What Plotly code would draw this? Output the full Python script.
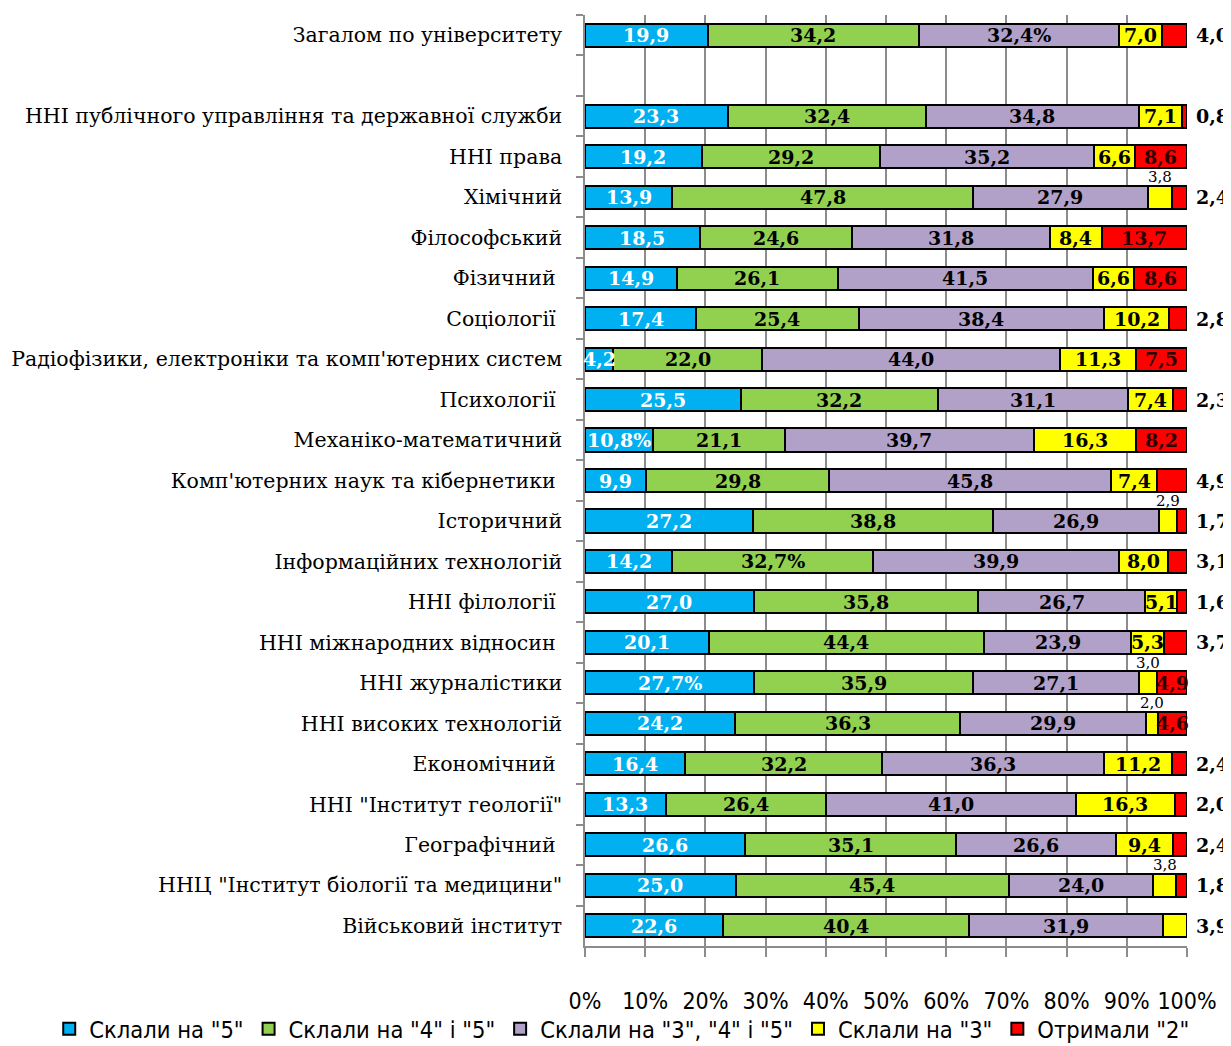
import plotly.graph_objects as go

categories = [
    "Загалом по університету",
    "\u00a0",
    "ННІ публічного управління та державної служби",
    "ННІ права",
    "Хімічний",
    "Філософський",
    "Фізичний\u00a0",
    "Соціології\u00a0",
    "Радіофізики, електроніки та комп'ютерних систем",
    "Психології\u00a0",
    "Механіко-математичний",
    "Комп'ютерних наук та кібернетики\u00a0",
    "Історичний",
    "Інформаційних технологій",
    "ННІ філології\u00a0",
    "ННІ міжнародних відносин\u00a0",
    "ННІ журналістики",
    "ННІ високих технологій",
    "Економічний\u00a0",
    "ННІ \"Інститут геології\"",
    "Географічний\u00a0",
    "ННЦ \"Інститут біології та медицини\"",
    "Військовий інститут",
]

s5 = [19.9, None, 23.3, 19.2, 13.9, 18.5, 14.9, 17.4, 4.2, 25.5, 10.8, 9.9, 27.2, 14.2, 27.0, 20.1, 27.7, 24.2, 16.4, 13.3, 26.6, 25.0, 22.6]
s45 = [34.2, None, 32.4, 29.2, 47.8, 24.6, 26.1, 25.4, 22.0, 32.2, 21.1, 29.8, 38.8, 32.7, 35.8, 44.4, 35.9, 36.3, 32.2, 26.4, 35.1, 45.4, 40.4]
s345 = [32.4, None, 34.8, 35.2, 27.9, 31.8, 41.5, 38.4, 44.0, 31.1, 39.7, 45.8, 26.9, 39.9, 26.7, 23.9, 27.1, 29.9, 36.3, 41.0, 26.6, 24.0, 31.9]
s3 = [7.0, None, 7.1, 6.6, 3.8, 8.4, 6.6, 10.2, 11.3, 7.4, 16.3, 7.4, 2.9, 8.0, 5.1, 5.3, 3.0, 2.0, 11.2, 16.3, 9.4, 3.8, 3.9]
s2 = [4.0, None, 0.8, 8.6, 2.4, 13.7, 8.6, 2.8, 7.5, 2.3, 8.2, 4.9, 1.7, 3.1, 1.6, 3.7, 4.9, 4.6, 2.4, 2.0, 2.4, 1.8, 0.0]

series_names = ['Склали на "5"', 'Склали на "4" і "5"', 'Склали на "3", "4" і "5"', 'Склали на "3"', 'Отримали "2"']
series_values = [s5, s45, s345, s3, s2]
colors = ["#00B0F0", "#92D050", "#B1A0C7", "#FFFF00", "#FF0000"]
text_colors = ["white", "black", "black", "black", "#2b0000"]

# label placement details (series index, row index)
pct_labels = {(2, 0), (0, 10), (1, 13), (0, 16)}
above_labels = {(3, 4), (3, 12), (3, 16), (3, 17), (3, 21)}
outside_labels = {(4, 0), (4, 2), (4, 4), (4, 7), (4, 9), (4, 11), (4, 12), (4, 13),
                  (4, 14), (4, 15), (4, 18), (4, 19), (4, 20), (4, 21), (3, 22)}


def fmt(v):
    return f"{v:.1f}".replace(".", ",")


serif = "DejaVu Serif, serif"
sans_c = "DejaVu Sans Condensed, Liberation Sans Narrow, DejaVu Sans, sans-serif"

fig = go.Figure()
for si, (name, vals) in enumerate(zip(series_names, series_values)):
    fig.add_trace(go.Bar(
        y=categories, x=vals, name=name, orientation="h",
        marker=dict(color=colors[si], line=dict(color="black", width=2)),
        hoverinfo="x+y+name",
    ))

annotations = []
for ri, cat in enumerate(categories):
    if s5[ri] is None:
        continue
    vals = [sv[ri] for sv in series_values]
    total = sum(vals)
    cum = 0
    for si, v in enumerate(vals):
        start = cum / total * 100
        cum += v
        end = cum / total * 100
        if not v:
            continue
        label = fmt(v) + ("%" if (si, ri) in pct_labels else "")
        if (si, ri) in above_labels:
            annotations.append(dict(x=(start + end) / 2, y=cat, text=label, showarrow=False,
                                    yshift=20, font=dict(family=serif, size=15, color="black")))
        elif (si, ri) in outside_labels:
            annotations.append(dict(x=100, y=cat, text=label, showarrow=False, xanchor="left",
                                    xshift=7, font=dict(family=serif, size=19, color="black", weight="bold")))
        else:
            annotations.append(dict(x=(start + end) / 2, y=cat, text=label, showarrow=False,
                                    font=dict(family=serif, size=19, color=text_colors[si], weight="bold")))

fig.update_layout(
    width=1223, height=1038,
    barmode="stack", barnorm="percent", bargap=0.43,
    plot_bgcolor="white", paper_bgcolor="white",
    margin=dict(l=577, r=44, t=7, b=100, autoexpand=False),
    annotations=annotations,
    legend=dict(orientation="h", xref="paper", x=-0.89, xanchor="left",
                yref="paper", y=-0.089, yanchor="middle", bgcolor="rgba(0,0,0,0)",
                font=dict(family=sans_c, size=23.5, color="black"),
                tracegroupgap=0, traceorder="normal", itemwidth=30),
    xaxis=dict(range=[0, 100], dtick=10, ticksuffix="%", showgrid=True, gridcolor="#8c8c8c", gridwidth=1.5,
               showline=True, linecolor="#8c8c8c", linewidth=1.5, ticks="outside", ticklen=9, tickcolor="#8c8c8c",
               tickwidth=1.5, ticklabelstandoff=25, zeroline=False,
               tickfont=dict(family=sans_c, size=23, color="black")),
    yaxis=dict(autorange="reversed", type="category", showline=True, linecolor="#8c8c8c", linewidth=1.5,
               ticks="outside", tickson="boundaries", ticklen=7, tickcolor="#8c8c8c", tickwidth=1.5,
               showgrid=False, ticklabelstandoff=17,
               tickfont=dict(family=serif, size=20.5, color="black")),
)

fig.write_html("out.html")
